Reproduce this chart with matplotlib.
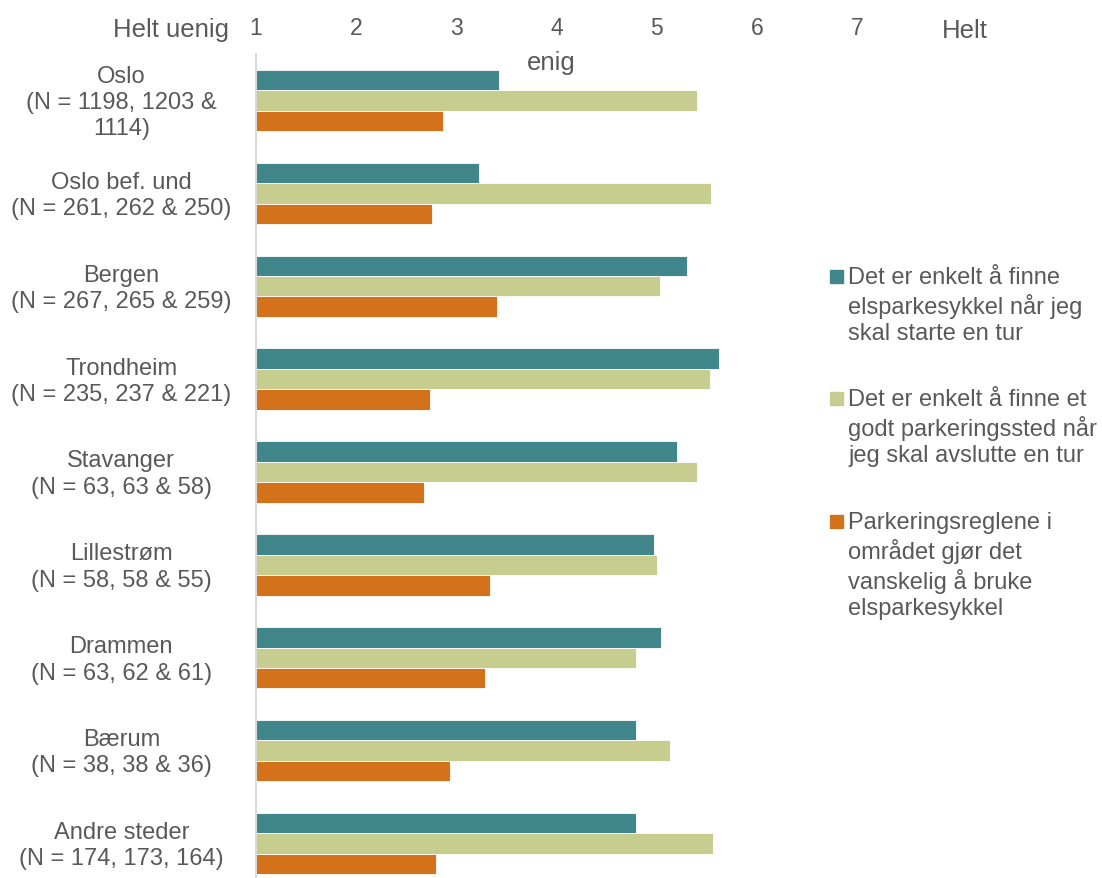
import matplotlib

matplotlib.use("Agg")
import matplotlib.pyplot as plt  # noqa: E402
import matplotlib.transforms as mtransforms  # noqa: E402
from matplotlib.patches import Rectangle  # noqa: E402

# values (scale 1-7)
categories = [
    "Oslo\n(N = 1198, 1203 &\n1114)",
    "Oslo bef. und\n(N = 261, 262 & 250)",
    "Bergen\n(N = 267, 265 & 259)",
    "Trondheim\n(N = 235, 237 & 221)",
    "Stavanger\n(N = 63, 63 & 58)",
    "Lillestrøm\n(N = 58, 58 & 55)",
    "Drammen\n(N = 63, 62 & 61)",
    "Bærum\n(N = 38, 38 & 36)",
    "Andre steder\n(N = 174, 173, 164)",
]
finne_sykkel = [3.43, 3.23, 5.30, 5.62, 5.20, 4.97, 5.04, 4.79, 4.79]
finne_parkering = [5.40, 5.54, 5.03, 5.53, 5.40, 5.00, 4.79, 5.13, 5.56]
parkeringsregler = [2.87, 2.76, 3.41, 2.74, 2.68, 3.34, 3.29, 2.94, 2.80]

series_labels = [
    "Det er enkelt å finne\nelsparkesykkel når jeg\nskal starte en tur",
    "Det er enkelt å finne et\ngodt parkeringssted når\njeg skal avslutte en tur",
    "Parkeringsreglene i\nområdet gjør det\nvanskelig å bruke\nelsparkesykkel",
]
colors = ["#40868A", "#C6CD8E", "#D4721C"]
ticks = [1, 2, 3, 4, 5, 6, 7]

TXT = "#595959"
plt.rcParams["font.family"] = ["Liberation Sans", "DejaVu Sans"]

W, H = 1102, 879
fig = plt.figure(figsize=(W / 100, H / 100), dpi=100)
ax = fig.add_axes([256 / W, -12 / H, (857 - 256) / W, (891 - 55) / H])

bh = 0.22
ys = list(range(len(categories)))
for k, vals in enumerate([finne_sykkel, finne_parkering, parkeringsregler]):
    off = (k - 1) * bh
    ax.barh([y + off for y in ys], [v - 1 for v in vals], left=1, height=bh,
            color=colors[k], edgecolor="white", linewidth=0.6)

ax.set_xlim(1, 7)
ax.set_ylim(len(categories) - 0.5, -0.5)
ax.xaxis.tick_top()
ax.set_xticks(ticks)
ax.set_xticklabels([str(t) for t in ticks], fontsize=16.5, color=TXT)
ax.tick_params(axis="x", length=0, pad=11)
ax.set_yticks(ys)
ax.set_yticklabels(categories, fontsize=17, color=TXT, ha="center", linespacing=1.25)
ax.tick_params(axis="y", length=0, pad=97)
# nudge the category labels up a little
shift = mtransforms.ScaledTranslation(0, 3 / 100, fig.dpi_scale_trans)
for lbl in ax.get_yticklabels():
    lbl.set_transform(lbl.get_transform() + shift)
for s in ["top", "right", "bottom"]:
    ax.spines[s].set_visible(False)
ax.spines["left"].set_color("#D9D9D9")
ax.spines["left"].set_linewidth(1.5)

# end labels of the scale
fig.text(229 / W, 1 - 30 / H, "Helt uenig", fontsize=18.5, color=TXT, ha="right", va="center")
fig.text(942 / W, 1 - 31 / H, "Helt", fontsize=18.5, color=TXT, ha="left", va="center")
fig.text(551 / W, 1 - 63 / H, "enig", fontsize=18.5, color=TXT, ha="center", va="center")

# legend drawn by hand to keep the squares on the first line
leg_tops = [271, 393, 516]
for lab, col, top in zip(series_labels, colors, leg_tops):
    fig.patches.append(Rectangle((830 / W, 1 - (top + 13) / H), 13 / W, 13 / H,
                                 transform=fig.transFigure, color=col))
    fig.text(848 / W, 1 - (top - 4) / H, lab, fontsize=17, color=TXT,
             ha="left", va="top", linespacing=1.25)

fig.savefig("out.png", dpi=100)
plt.close(fig)
